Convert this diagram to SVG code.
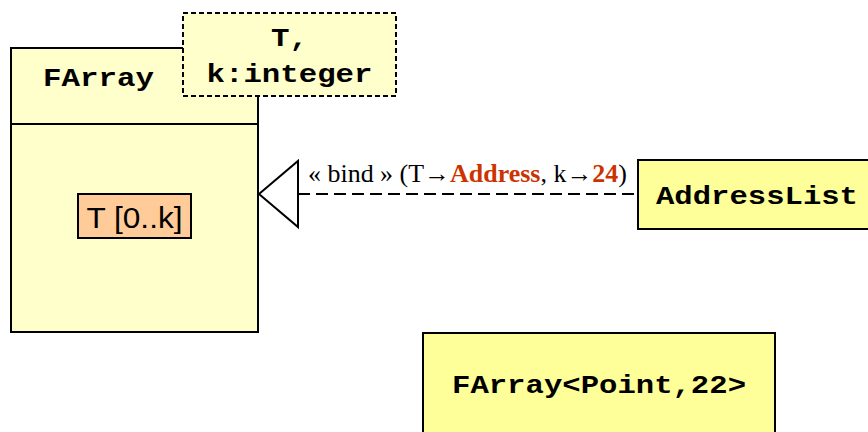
<svg xmlns="http://www.w3.org/2000/svg" width="868" height="432" viewBox="0 0 868 432">
<style>
.box{stroke:#000;stroke-width:2}
.cls{fill:#FFFFCC}
.obj{fill:#FFFF99}
.mono{font-family:"Liberation Mono","Courier New",monospace;font-weight:bold;font-size:26px;fill:#000}
.lbl{font-family:"Liberation Serif","Times New Roman",serif;font-size:25px;fill:#000}
.hl{fill:#CC3300;font-weight:bold}
</style>
<rect width="868" height="432" fill="#fff"/>
<g id="FArray">
<rect class="box cls" x="11" y="48" width="247" height="284"/>
<line class="box" x1="11" y1="124" x2="258" y2="124"/>
<text class="mono" x="43" y="86" textLength="111" lengthAdjust="spacingAndGlyphs">FArray</text>
<g id="attr">
<rect class="box" fill="#FFCC99" x="78" y="194" width="113" height="44"/>
<text x="134.5" y="228" text-anchor="middle" font-family="Liberation Sans, Arial, sans-serif" font-size="29" textLength="96" lengthAdjust="spacingAndGlyphs">T [0..k]</text>
</g>
</g>
<g id="params">
<rect class="box cls" x="183" y="13" width="213" height="83" stroke-dasharray="5,3"/>
<text class="mono" x="289.5" y="46" text-anchor="middle" textLength="37" lengthAdjust="spacingAndGlyphs">T,</text>
<text class="mono" x="289.5" y="82" text-anchor="middle" textLength="166" lengthAdjust="spacingAndGlyphs">k:integer</text>
</g>
<g id="AddressList">
<rect class="box obj" x="638" y="160" width="240" height="69"/>
<text class="mono" x="656" y="204" textLength="202" lengthAdjust="spacingAndGlyphs">AddressList</text>
</g>
<g id="FArrayPoint">
<rect class="box obj" x="423" y="333" width="352" height="110"/>
<text class="mono" x="452" y="393" textLength="294" lengthAdjust="spacingAndGlyphs">FArray&lt;Point,22&gt;</text>
</g>
<g id="connectors">
<line x1="298" y1="194" x2="637" y2="194" stroke="#000" stroke-width="2" stroke-dasharray="12,6"/>
<polygon points="259,194 298,161 298,227" fill="#fff" stroke="#000" stroke-width="2"/>
<text class="lbl" x="308" y="182" textLength="319" lengthAdjust="spacingAndGlyphs">« bind » (T→<tspan class="hl">Address</tspan>, k→<tspan class="hl">24</tspan>)</text>
</g>
</svg>
